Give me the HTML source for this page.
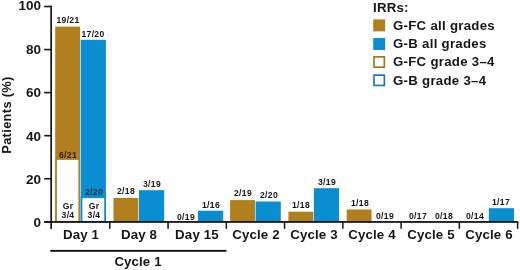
<!DOCTYPE html>
<html><head><meta charset="utf-8"><style>
html,body{margin:0;padding:0;background:#fff;}
body{width:520px;height:270px;position:relative;overflow:hidden;font-family:"Liberation Sans", sans-serif;}
svg{position:absolute;left:0;top:0;}
.t{position:absolute;white-space:nowrap;font-weight:bold;color:#161616;will-change:transform;}
</style></head><body>
<svg width="520" height="270" viewBox="0 0 520 270">
<rect x="44.20" y="5.70" width="7.00" height="1.60" fill="#161616"/>
<rect x="44.20" y="48.76" width="7.00" height="1.60" fill="#161616"/>
<rect x="44.20" y="91.82" width="7.00" height="1.60" fill="#161616"/>
<rect x="44.20" y="134.88" width="7.00" height="1.60" fill="#161616"/>
<rect x="44.20" y="177.94" width="7.00" height="1.60" fill="#161616"/>
<rect x="44.20" y="221.00" width="7.00" height="1.60" fill="#161616"/>
<rect x="55.20" y="26.60" width="24.90" height="195.20" fill="#b27f1f"/>
<rect x="80.70" y="39.80" width="25.20" height="182.00" fill="#0a8ecf"/>
<rect x="113.50" y="198.00" width="24.90" height="23.80" fill="#b27f1f"/>
<rect x="139.00" y="190.20" width="25.20" height="31.60" fill="#0a8ecf"/>
<rect x="198.00" y="210.70" width="25.20" height="11.10" fill="#0a8ecf"/>
<rect x="230.10" y="200.10" width="24.90" height="21.70" fill="#b27f1f"/>
<rect x="255.60" y="201.50" width="25.20" height="20.30" fill="#0a8ecf"/>
<rect x="288.40" y="211.70" width="24.90" height="10.10" fill="#b27f1f"/>
<rect x="313.90" y="188.20" width="25.20" height="33.60" fill="#0a8ecf"/>
<rect x="346.70" y="209.50" width="24.90" height="12.30" fill="#b27f1f"/>
<rect x="488.80" y="208.20" width="25.20" height="13.60" fill="#0a8ecf"/>
<rect x="56.05" y="159.05" width="23.20" height="62.70" fill="#fff" stroke="#b27f1f" stroke-width="1.7"/>
<rect x="81.55" y="197.25" width="23.50" height="24.50" fill="#fff" stroke="#0a8ecf" stroke-width="1.7"/>
<rect x="50.30" y="5.80" width="1.70" height="223.20" fill="#161616"/>
<rect x="44.20" y="221.05" width="473.90" height="1.80" fill="#161616"/>
<rect x="109.05" y="221.80" width="1.50" height="7.00" fill="#161616"/>
<rect x="167.31" y="221.80" width="1.50" height="7.00" fill="#161616"/>
<rect x="225.57" y="221.80" width="1.50" height="7.00" fill="#161616"/>
<rect x="283.83" y="221.80" width="1.50" height="7.00" fill="#161616"/>
<rect x="342.09" y="221.80" width="1.50" height="7.00" fill="#161616"/>
<rect x="400.35" y="221.80" width="1.50" height="7.00" fill="#161616"/>
<rect x="458.61" y="221.80" width="1.50" height="7.00" fill="#161616"/>
<rect x="516.87" y="221.80" width="1.50" height="7.00" fill="#161616"/>
<rect x="50.30" y="249.90" width="176.20" height="1.90" fill="#161616"/>
<rect x="373.20" y="19.40" width="12.00" height="12.00" fill="#b27f1f"/>
<rect x="373.20" y="38.00" width="12.00" height="12.00" fill="#0a8ecf"/>
<rect x="374.05" y="56.85" width="10.30" height="10.30" fill="#fff" stroke="#a07828" stroke-width="1.7"/>
<rect x="374.05" y="75.15" width="10.30" height="10.30" fill="#fff" stroke="#1580ad" stroke-width="1.7"/>
</svg>
<div class="t" style="left:1.20px;top:-0.70px;width:40px;font-size:13.5px;line-height:13.5px;text-align:right;letter-spacing:0.0px;">100</div>
<div class="t" style="left:1.20px;top:42.72px;width:40px;font-size:13.5px;line-height:13.5px;text-align:right;letter-spacing:0.0px;">80</div>
<div class="t" style="left:1.20px;top:86.14px;width:40px;font-size:13.5px;line-height:13.5px;text-align:right;letter-spacing:0.0px;">60</div>
<div class="t" style="left:1.20px;top:129.56px;width:40px;font-size:13.5px;line-height:13.5px;text-align:right;letter-spacing:0.0px;">40</div>
<div class="t" style="left:1.20px;top:172.98px;width:40px;font-size:13.5px;line-height:13.5px;text-align:right;letter-spacing:0.0px;">20</div>
<div class="t" style="left:1.20px;top:216.40px;width:40px;font-size:13.5px;line-height:13.5px;text-align:right;letter-spacing:0.0px;">0</div>
<div class="t" style="left:-48.3px;top:108px;width:110px;font-size:12.8px;line-height:14px;text-align:center;letter-spacing:0.35px;transform:rotate(-90deg);transform-origin:55px 7px;">Patients (%)</div>
<div class="t" style="left:47.80px;top:16.02px;width:40px;font-size:8.6px;line-height:8.6px;text-align:center;letter-spacing:0.3px;">19/21</div>
<div class="t" style="left:73.45px;top:29.52px;width:40px;font-size:8.6px;line-height:8.6px;text-align:center;letter-spacing:0.3px;">17/20</div>
<div class="t" style="left:50.88px;top:228.04px;width:60px;font-size:13.3px;line-height:13.3px;text-align:center;letter-spacing:0.15px;">Day 1</div>
<div class="t" style="left:106.10px;top:186.92px;width:40px;font-size:8.6px;line-height:8.6px;text-align:center;letter-spacing:0.3px;">2/18</div>
<div class="t" style="left:131.75px;top:179.82px;width:40px;font-size:8.6px;line-height:8.6px;text-align:center;letter-spacing:0.3px;">3/19</div>
<div class="t" style="left:109.17px;top:228.04px;width:60px;font-size:13.3px;line-height:13.3px;text-align:center;letter-spacing:0.15px;">Day 8</div>
<div class="t" style="left:165.90px;top:212.52px;width:40px;font-size:8.6px;line-height:8.6px;text-align:center;letter-spacing:0.3px;">0/19</div>
<div class="t" style="left:191.15px;top:201.12px;width:40px;font-size:8.6px;line-height:8.6px;text-align:center;letter-spacing:0.3px;">1/16</div>
<div class="t" style="left:167.47px;top:228.04px;width:60px;font-size:13.3px;line-height:13.3px;text-align:center;letter-spacing:0.15px;">Day 15</div>
<div class="t" style="left:222.70px;top:189.22px;width:40px;font-size:8.6px;line-height:8.6px;text-align:center;letter-spacing:0.3px;">2/19</div>
<div class="t" style="left:249.15px;top:191.42px;width:40px;font-size:8.6px;line-height:8.6px;text-align:center;letter-spacing:0.3px;">2/20</div>
<div class="t" style="left:225.77px;top:228.04px;width:60px;font-size:13.3px;line-height:13.3px;text-align:center;letter-spacing:0.15px;">Cycle 2</div>
<div class="t" style="left:281.00px;top:201.32px;width:40px;font-size:8.6px;line-height:8.6px;text-align:center;letter-spacing:0.3px;">1/18</div>
<div class="t" style="left:306.65px;top:177.82px;width:40px;font-size:8.6px;line-height:8.6px;text-align:center;letter-spacing:0.3px;">3/19</div>
<div class="t" style="left:284.07px;top:228.04px;width:60px;font-size:13.3px;line-height:13.3px;text-align:center;letter-spacing:0.15px;">Cycle 3</div>
<div class="t" style="left:339.70px;top:199.12px;width:40px;font-size:8.6px;line-height:8.6px;text-align:center;letter-spacing:0.3px;">1/18</div>
<div class="t" style="left:364.55px;top:212.22px;width:40px;font-size:8.6px;line-height:8.6px;text-align:center;letter-spacing:0.3px;">0/19</div>
<div class="t" style="left:342.38px;top:228.04px;width:60px;font-size:13.3px;line-height:13.3px;text-align:center;letter-spacing:0.15px;">Cycle 4</div>
<div class="t" style="left:397.60px;top:212.22px;width:40px;font-size:8.6px;line-height:8.6px;text-align:center;letter-spacing:0.3px;">0/17</div>
<div class="t" style="left:424.05px;top:212.22px;width:40px;font-size:8.6px;line-height:8.6px;text-align:center;letter-spacing:0.3px;">0/18</div>
<div class="t" style="left:400.67px;top:228.04px;width:60px;font-size:13.3px;line-height:13.3px;text-align:center;letter-spacing:0.15px;">Cycle 5</div>
<div class="t" style="left:455.40px;top:212.22px;width:40px;font-size:8.6px;line-height:8.6px;text-align:center;letter-spacing:0.3px;">0/14</div>
<div class="t" style="left:480.95px;top:198.12px;width:40px;font-size:8.6px;line-height:8.6px;text-align:center;letter-spacing:0.3px;">1/17</div>
<div class="t" style="left:458.97px;top:228.04px;width:60px;font-size:13.3px;line-height:13.3px;text-align:center;letter-spacing:0.15px;">Cycle 6</div>
<div class="t" style="left:47.85px;top:150.82px;width:40px;font-size:8.6px;line-height:8.6px;text-align:center;letter-spacing:0.3px;color:#2e220c;">6/21</div>
<div class="t" style="left:73.75px;top:188.12px;width:40px;font-size:8.6px;line-height:8.6px;text-align:center;letter-spacing:0.3px;color:#0c2c44;">2/20</div>
<div class="t" style="left:52.85px;top:201.52px;width:30px;font-size:8.6px;line-height:8.6px;text-align:center;letter-spacing:0.3px;">Gr</div>
<div class="t" style="left:52.85px;top:210.92px;width:30px;font-size:8.6px;line-height:8.6px;text-align:center;letter-spacing:0.3px;">3/4</div>
<div class="t" style="left:78.55px;top:201.52px;width:30px;font-size:8.6px;line-height:8.6px;text-align:center;letter-spacing:0.3px;">Gr</div>
<div class="t" style="left:78.55px;top:210.92px;width:30px;font-size:8.6px;line-height:8.6px;text-align:center;letter-spacing:0.3px;">3/4</div>
<div class="t" style="left:98.27px;top:255.03px;width:80px;font-size:13.2px;line-height:13.2px;text-align:center;letter-spacing:0.15px;">Cycle 1</div>
<div class="t" style="left:373.20px;top:0.74px;width:60px;font-size:13.3px;line-height:13.3px;text-align:left;letter-spacing:0.2px;">IRRs:</div>
<div class="t" style="left:392.60px;top:18.83px;width:140px;font-size:13.2px;line-height:13.2px;text-align:left;letter-spacing:0.3px;">G-FC all grades</div>
<div class="t" style="left:392.60px;top:37.43px;width:140px;font-size:13.2px;line-height:13.2px;text-align:left;letter-spacing:0.3px;">G-B all grades</div>
<div class="t" style="left:392.60px;top:55.43px;width:140px;font-size:13.2px;line-height:13.2px;text-align:left;letter-spacing:0.3px;">G-FC grade 3–4</div>
<div class="t" style="left:392.60px;top:73.73px;width:140px;font-size:13.2px;line-height:13.2px;text-align:left;letter-spacing:0.3px;">G-B grade 3–4</div>
</body></html>
